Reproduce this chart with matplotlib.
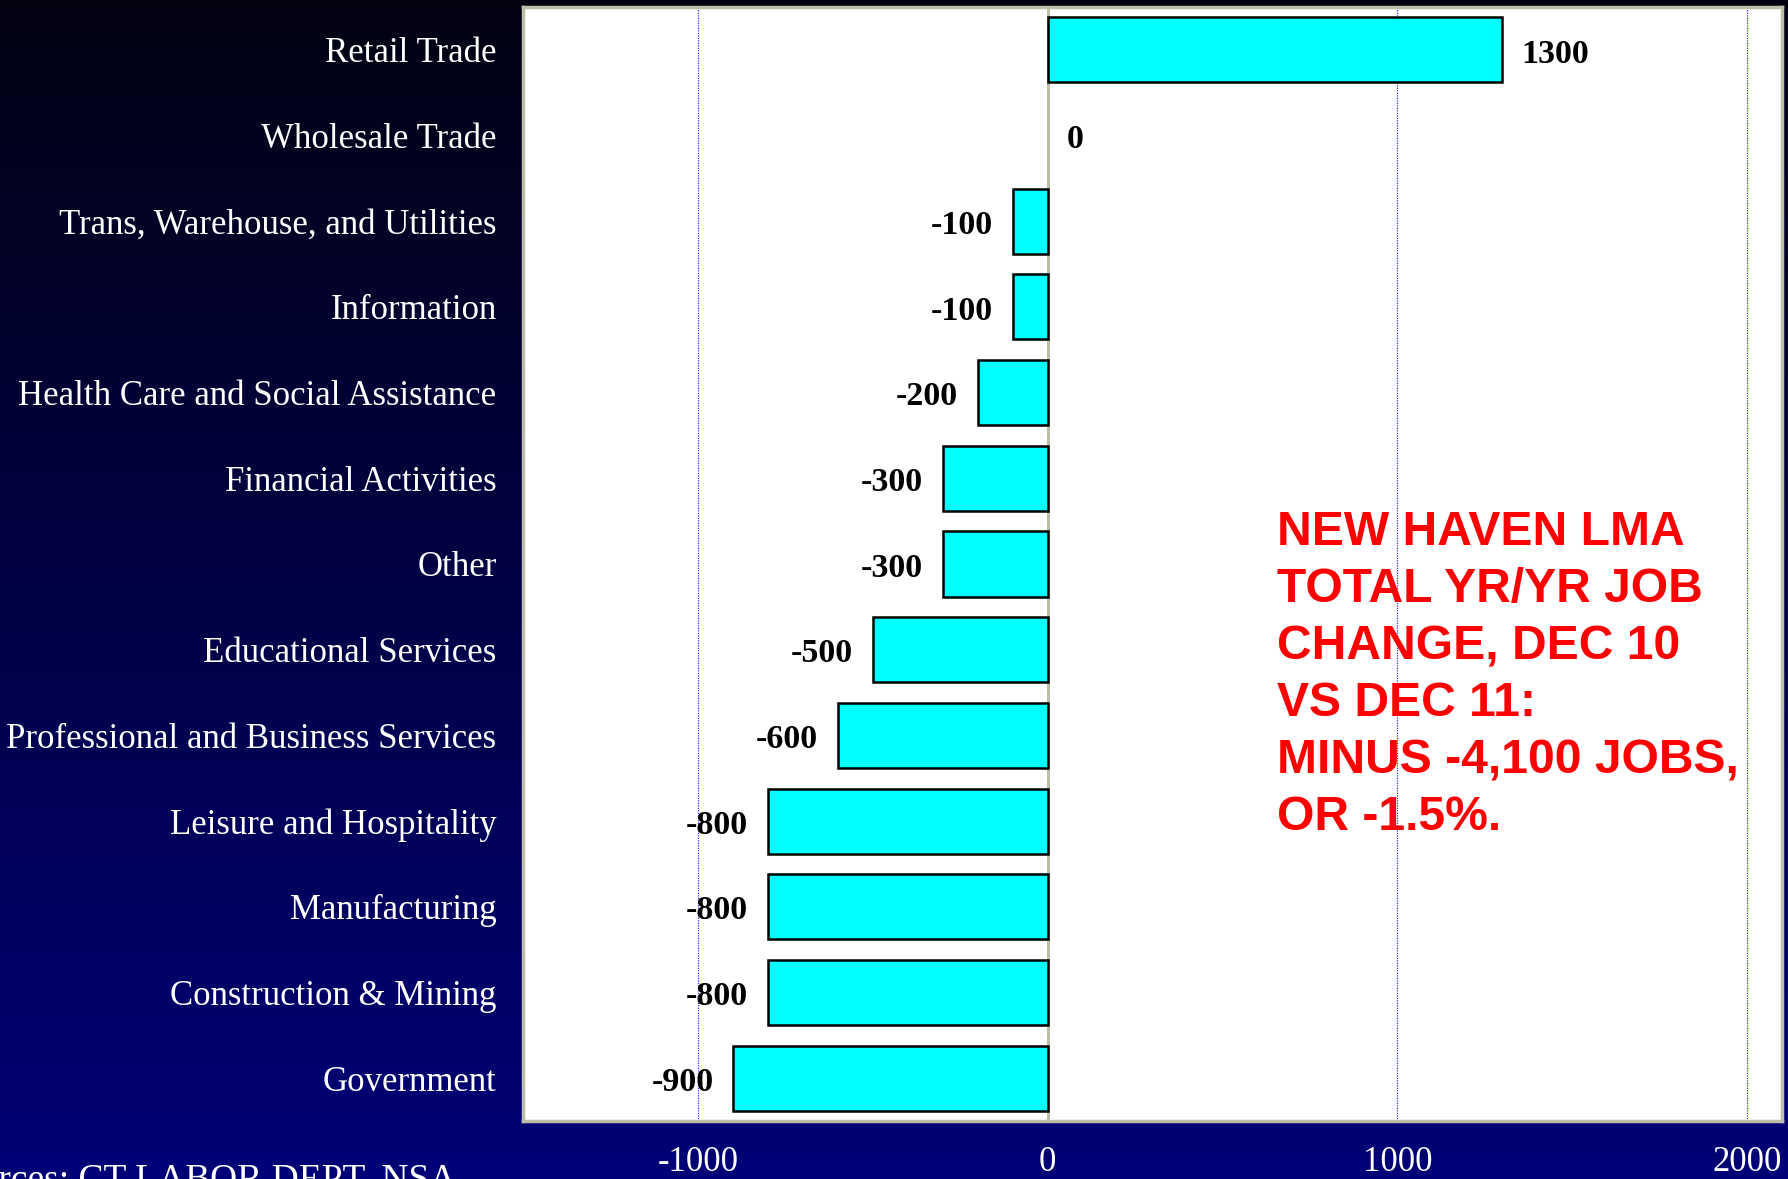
import numpy as np
import matplotlib
matplotlib.use("Agg")
import matplotlib.pyplot as plt

categories = ["Retail Trade", "Wholesale Trade", "Trans, Warehouse, and Utilities",
              "Information", "Health Care and Social Assistance", "Financial Activities",
              "Other", "Educational Services", "Professional and Business Services",
              "Leisure and Hospitality", "Manufacturing", "Construction & Mining",
              "Government"]
values = [1300, 0, -100, -100, -200, -300, -300, -500, -600, -800, -800, -800, -900]
xticks = [-1000, 0, 1000, 2000]
note = "NEW HAVEN LMA\nTOTAL YR/YR JOB\nCHANGE, DEC 10\nVS DEC 11:\nMINUS -4,100 JOBS,\nOR -1.5%."
source = "Sources: CT LABOR DEPT, NSA"

W, H = 1788, 1179
fig = plt.figure(figsize=(W / 100, H / 100), dpi=100)

# background gradient
bg = fig.add_axes([0, 0, 1, 1])
grad = np.linspace(0, 1, 256).reshape(-1, 1)
top = np.array([0.01, 0.01, 0.07])
bot = np.array([0.0, 0.0, 0.47])
img = top[None, None, :] * (1 - grad[:, :, None]) + bot[None, None, :] * grad[:, :, None]
bg.imshow(img, aspect="auto", extent=[0, 1, 0, 1], origin="upper")
bg.set_xlim(0, 1); bg.set_ylim(0, 1)
bg.axis("off")

left, right, bottom, topp = 523 / W, 1782 / W, 1 - 1121 / H, 1 - 7 / H
ax = fig.add_axes([left, bottom, right - left, topp - bottom])
ax.set_facecolor("white")

serif = "Liberation Serif"
y = np.arange(len(categories))
edgecols = ["#BEBDA8" if v == 0 else "black" for v in values]
ax.axvline(0, color="#BEBDA8", lw=2.2, zorder=1)
for gx in xticks:
    if gx != 0:
        ax.axvline(gx, color="#3030FF", lw=0.9, ls=(0, (1, 1)), zorder=0.5)
ax.barh(y, values, height=0.76, color="#00FFFF", edgecolor=edgecols, linewidth=1.8, zorder=2)

for yi, v in zip(y, values):
    if v >= 0:
        ax.annotate(f"{v}", xy=(v, yi), xytext=(14, -3), textcoords="offset points",
                    ha="left", va="center", fontsize=24.5, fontweight="bold",
                    family=serif, color="black", zorder=3)
    else:
        ax.annotate(f"{v}", xy=(v, yi), xytext=(-14, -3), textcoords="offset points",
                    ha="right", va="center", fontsize=24.5, fontweight="bold",
                    family=serif, color="black", zorder=3)

ax.set_xlim(-1500, 2100)
ax.set_ylim(len(categories) - 0.5, -0.5)
ax.set_xticks(xticks)
ax.set_xticklabels([str(t) for t in xticks], family=serif, fontsize=25, color="white")
ax.set_yticks(y)
ax.set_yticklabels(categories, family=serif, fontsize=25, color="white")
ax.tick_params(axis="x", length=0, pad=18)
ax.tick_params(axis="y", length=0, pad=19)
for s in ax.spines.values():
    s.set_color("#BEBDA8")
    s.set_linewidth(2.5)

fig.text(1277 / W, 1 - 510 / H, note, ha="left", va="top", color="#FF0000",
         fontsize=34.6, fontweight="bold", family="Liberation Sans", linespacing=1.345)
fig.text(456 / W, 1 - 1163 / H, source, ha="right", va="top", color="white",
         fontsize=27, family=serif)

fig.savefig("out.png", dpi=100)
